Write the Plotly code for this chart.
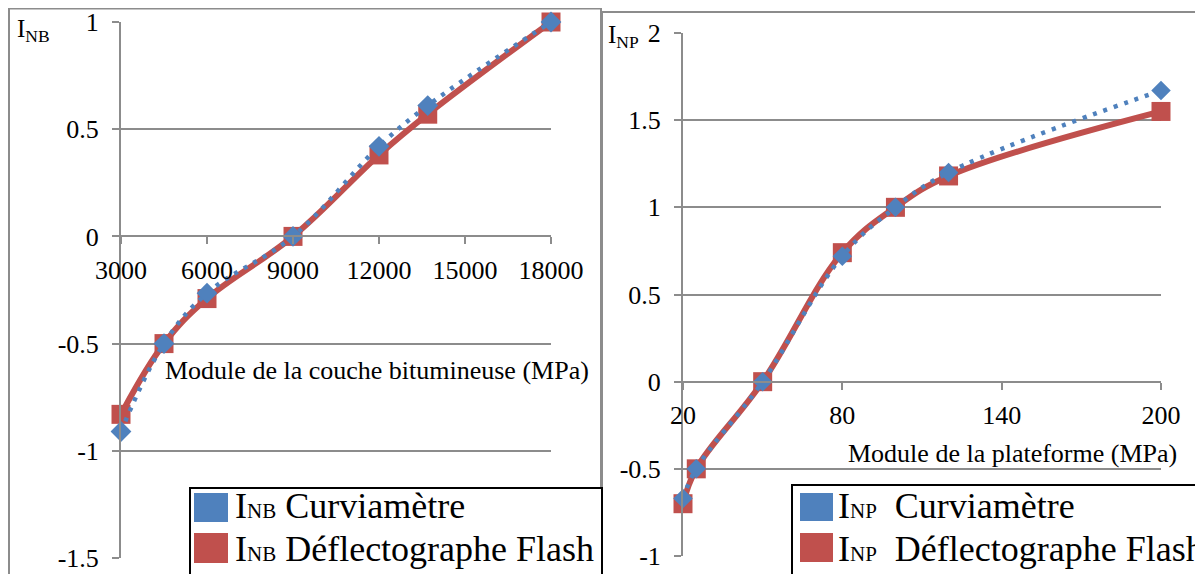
import plotly.graph_objects as go

# ---------------- data ----------------
nb_x = [3000, 4500, 6000, 9000, 12000, 13700, 18000]
nb_curv = [-0.91, -0.5, -0.265, 0.0, 0.42, 0.61, 1.0]
nb_flash = [-0.83, -0.5, -0.29, 0.0, 0.38, 0.57, 1.0]

np_x = [20, 25, 50, 80, 100, 120, 200]
np_curv = [-0.67, -0.5, 0.0, 0.72, 1.0, 1.2, 1.67]
np_flash = [-0.70, -0.5, 0.0, 0.74, 1.0, 1.18, 1.55]

nb_xticks = [3000, 6000, 9000, 12000, 15000, 18000]
nb_yticks = [-1.5, -1, -0.5, 0, 0.5, 1]
nb_yticktext = ["-1.5", "-1", "-0.5", "0", "0.5", "1"]
np_xticks = [20, 80, 140, 200]
np_yticks = [-1, -0.5, 0, 0.5, 1, 1.5, 2]
np_yticktext = ["-1", "-0.5", "0", "0.5", "1", "1.5", "2"]

BLUE = "#4F81BD"
RED = "#C0504D"
GRID = "#8c8c8c"
FONT = "Liberation Serif, Times New Roman, serif"
W, H = 1203, 574
OFF = 8  # page body margin
SMOOTH = 1.1


def px(x):
    return (x - OFF) / W


def py(y):
    return 1 - (y - OFF) / H


fig = go.Figure()

# left chart
fig.add_trace(go.Scatter(x=nb_x, y=nb_flash, mode="lines+markers", xaxis="x", yaxis="y",
                         line=dict(color=RED, width=6, shape="spline", smoothing=SMOOTH),
                         marker=dict(symbol="square", size=19, color=RED),
                         cliponaxis=False, showlegend=False))
fig.add_trace(go.Scatter(x=nb_x, y=nb_curv, mode="lines+markers", xaxis="x", yaxis="y",
                         line=dict(color=BLUE, width=4.5, dash="4px,7px", shape="spline", smoothing=SMOOTH),
                         marker=dict(symbol="diamond", size=16, color=BLUE),
                         cliponaxis=False, showlegend=False))
# right chart
fig.add_trace(go.Scatter(x=np_x, y=np_flash, mode="lines+markers", xaxis="x2", yaxis="y2",
                         line=dict(color=RED, width=6, shape="spline", smoothing=SMOOTH),
                         marker=dict(symbol="square", size=19, color=RED),
                         cliponaxis=False, showlegend=False))
fig.add_trace(go.Scatter(x=np_x, y=np_curv, mode="lines+markers", xaxis="x2", yaxis="y2",
                         line=dict(color=BLUE, width=4.5, dash="4px,7px", shape="spline", smoothing=SMOOTH),
                         marker=dict(symbol="diamond", size=15, color=BLUE),
                         cliponaxis=False, showlegend=False))

tickfont = dict(family=FONT, size=26, color="black")

y_left_dom = [py(558), py(22)]
y_right_dom = [py(556), py(33)]
zero_left = y_left_dom[0] + (1.5 / 2.5) * (y_left_dom[1] - y_left_dom[0])
zero_right = y_right_dom[0] + (1 / 3) * (y_right_dom[1] - y_right_dom[0])

common_x = dict(showgrid=False, showline=True, linecolor=GRID, linewidth=2, ticks="outside",
                ticklen=7, tickwidth=2, tickcolor=GRID, tickfont=tickfont, zeroline=False,
                anchor="free", ticklabelstandoff=3, automargin=False)
common_y = dict(showgrid=True, gridcolor=GRID, gridwidth=2, showline=True, linecolor=GRID,
                linewidth=2, ticks="outside", ticklen=7, tickwidth=2, tickcolor=GRID,
                tickfont=tickfont, zeroline=False, ticklabelstandoff=8, automargin=False)

fig.update_layout(
    width=W, height=H,
    template="none",
    margin=dict(l=0, r=0, t=0, b=0, autoexpand=False),
    paper_bgcolor="white", plot_bgcolor="white",
    xaxis=dict(domain=[px(121), px(551)], range=[3000, 18000], tickvals=nb_xticks,
               ticktext=[str(v) for v in nb_xticks], position=zero_left, **common_x),
    yaxis=dict(domain=y_left_dom, range=[-1.5, 1], tickvals=nb_yticks, ticktext=nb_yticktext,
               anchor="x", **common_y),
    xaxis2=dict(domain=[px(683), px(1161)], range=[20, 200], tickvals=np_xticks,
                ticktext=[str(v) for v in np_xticks], position=zero_right, **common_x),
    yaxis2=dict(domain=y_right_dom, range=[-1, 2], tickvals=np_yticks, ticktext=np_yticktext,
                anchor="x2", **common_y),
)

shapes = []
# panel borders
shapes.append(dict(type="rect", xref="paper", yref="paper", x0=px(9), x1=px(601), y0=-0.1, y1=py(8.5),
                   line=dict(color=GRID, width=2), layer="below"))
shapes.append(dict(type="rect", xref="paper", yref="paper", x0=px(602), x1=px(1198), y0=-0.1, y1=py(12),
                   line=dict(color=GRID, width=2), layer="below"))
# legend boxes
shapes.append(dict(type="rect", xref="paper", yref="paper", x0=px(190), x1=px(602), y0=-0.1, y1=py(488),
                   line=dict(color="black", width=2), fillcolor="white", layer="above"))
shapes.append(dict(type="rect", xref="paper", yref="paper", x0=px(792), x1=1.05, y0=-0.1, y1=py(485),
                   line=dict(color="black", width=2), fillcolor="white", layer="above"))
# legend swatches
for (x0, x1, y0, y1, c) in [(194, 228, 493, 522, BLUE), (194, 228, 533, 563, RED),
                            (800, 833, 493, 521, BLUE), (800, 833, 533, 562, RED)]:
    shapes.append(dict(type="rect", xref="paper", yref="paper", x0=px(x0), x1=px(x1),
                       y0=py(y1), y1=py(y0), line=dict(width=0), fillcolor=c, layer="above"))

fig.update_layout(shapes=shapes)

ann = []
titlefont = dict(family=FONT, size=26, color="black")
ann.append(dict(xref="paper", yref="paper", x=px(591), y=py(370), xanchor="right", yanchor="middle",
                text="Module de la couche bitumineuse (MPa)", showarrow=False, font=titlefont))
ann.append(dict(xref="paper", yref="paper", x=px(1179), y=py(453), xanchor="right", yanchor="middle",
                text="Module de la plateforme (MPa)", showarrow=False, font=titlefont))
ann.append(dict(xref="paper", yref="paper", x=px(15), y=py(13), xanchor="left", yanchor="top",
                text="I<sub>NB</sub>", showarrow=False, font=dict(family=FONT, size=25, color="black")))
ann.append(dict(xref="paper", yref="paper", x=px(606), y=py(19), xanchor="left", yanchor="top",
                text="I<sub>NP</sub>", showarrow=False, font=dict(family=FONT, size=25, color="black")))

legfont = dict(family=FONT, size=36, color="black")
small = '<span style="font-size:21px">'
ann.append(dict(xref="paper", yref="paper", x=px(233), y=py(506), xanchor="left", yanchor="middle",
                text="I" + small + "NB</span> Curviamètre", showarrow=False, font=legfont))
ann.append(dict(xref="paper", yref="paper", x=px(233), y=py(549), xanchor="left", yanchor="middle",
                text="I" + small + "NB</span> Déflectographe Flash", showarrow=False, font=legfont))
ann.append(dict(xref="paper", yref="paper", x=px(836), y=py(506), xanchor="left", yanchor="middle",
                text="I" + small + "NP</span>  Curviamètre", showarrow=False, font=legfont))
ann.append(dict(xref="paper", yref="paper", x=px(836), y=py(549), xanchor="left", yanchor="middle",
                text="I" + small + "NP</span>  Déflectographe Flash", showarrow=False, font=legfont))
fig.update_layout(annotations=ann)

fig.write_html("out.html", config={"displayModeBar": False})
